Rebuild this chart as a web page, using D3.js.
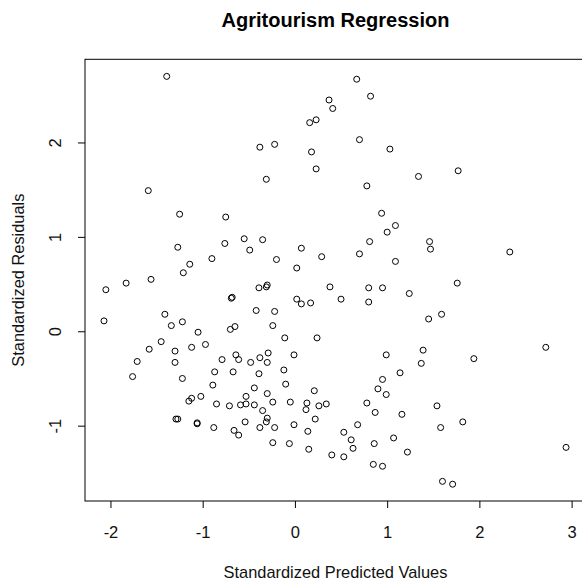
<!DOCTYPE html>
<html>
<head>
<meta charset="utf-8">
<script src="https://cdn.jsdelivr.net/npm/d3@7"></script>
<style>
  body { margin: 0; background: #fff; }
  svg { display: block; font-family: Arial, "Liberation Sans", sans-serif; }
</style>
</head>
<body>
<svg width="582" height="582"></svg>
<script>
// standardized predicted values (x) and standardized residuals (y)
const predicted = [
  -1.39, -1.59, 0.67, 0.82, 0.37, 0.41, 0.23, 0.16, -0.38, -0.22,
  0.70, 1.03, 0.18, 0.23, -0.31, 0.78, 1.34, 1.77,
  -1.25, -0.75, -0.55, -0.49, -1.27, -0.76, -0.90, -1.14, -1.21, -1.56,
  -1.83, -2.05, -0.68, -0.69, -2.07, -1.41, -1.34, -1.22, -1.05, -0.70,
  -0.65, -1.45, -1.58, -1.30, -1.12, -0.97, -1.71, -0.79, -0.64, -0.61,
  0.94, 1.09, 1.00, 0.81, -0.35, 0.07, -0.20, 0.29, 0.70, 1.09,
  0.02, 0.38, 0.80, 0.95, 1.24, -0.39, -0.31, -0.30, 0.02, 0.07,
  0.17, 0.50, 0.80, -0.42, -0.22, -0.24, -0.11, 0.24, -0.48, -0.38,
  -0.29, -0.01, 0.99,
  1.46, 1.47, 2.33, 1.76, 1.59, 1.45, 1.39, 2.72, 1.94,
  -1.30, -1.76, -1.22, -0.87, -0.67, -0.89, -0.53, -1.02, -1.12, -1.15,
  -0.85, -0.71, -0.59, -0.53, -0.54, -1.29, -1.27, -1.06, -1.06, -0.88,
  -0.66, -0.61,
  -0.30, -0.39, -0.12, -0.10, -0.44, -0.30, -0.44, -0.35, -0.24, -0.05,
  0.13, 0.12, 0.21, 0.26, 0.34, 0.22, -0.30, -0.31, -0.38, -0.22,
  -0.01, 0.14, -0.24, -0.06, 0.15, 0.40, 0.53, 0.53, 0.68, 0.61,
  0.63, 0.78, 0.87, 0.90, 0.95, 0.99, 1.14, 1.16, 1.07, 0.86,
  0.85, 0.95, 1.22,
  1.37, 1.54, 1.58, 1.82, 2.94, 1.60, 1.71
];
const residuals = [
  2.70, 1.49, 2.67, 2.49, 2.45, 2.36, 2.24, 2.21, 1.95, 1.98,
  2.03, 1.93, 1.90, 1.72, 1.61, 1.54, 1.64, 1.70,
  1.24, 1.21, 0.98, 0.86, 0.89, 0.93, 0.77, 0.71, 0.62, 0.55,
  0.51, 0.44, 0.36, 0.35, 0.11, 0.18, 0.06, 0.10, -0.01, 0.02,
  0.05, -0.11, -0.19, -0.21, -0.17, -0.14, -0.32, -0.30, -0.25, -0.30,
  1.25, 1.12, 1.05, 0.95, 0.97, 0.88, 0.76, 0.79, 0.82, 0.74,
  0.67, 0.47, 0.46, 0.46, 0.40, 0.46, 0.47, 0.49, 0.34, 0.29,
  0.30, 0.34, 0.31, 0.22, 0.21, 0.06, -0.07, -0.07, -0.33, -0.28,
  -0.23, -0.25, -0.25,
  0.95, 0.87, 0.84, 0.51, 0.18, 0.13, -0.20, -0.17, -0.29,
  -0.33, -0.48, -0.50, -0.43, -0.43, -0.57, -0.69, -0.69, -0.71, -0.74,
  -0.77, -0.79, -0.78, -0.77, -0.96, -0.93, -0.93, -0.97, -0.98, -1.02,
  -1.05, -1.10,
  -0.33, -0.45, -0.41, -0.56, -0.60, -0.66, -0.78, -0.84, -0.75, -0.75,
  -0.76, -0.83, -0.63, -0.79, -0.77, -0.93, -0.92, -0.96, -1.02, -1.02,
  -0.99, -1.06, -1.18, -1.19, -1.25, -1.31, -1.33, -1.07, -0.99, -1.15,
  -1.24, -0.76, -0.86, -0.61, -0.51, -0.67, -0.44, -0.88, -1.13, -1.19,
  -1.41, -1.43, -1.28,
  -0.34, -0.79, -1.02, -0.96, -1.23, -1.59, -1.62
];
const xTicks = [-2, -1, 0, 1, 2, 3];
const yTicks = [-1, 0, 1, 2];
const title = "Agritourism Regression";
const xTitle = "Standardized Predicted Values";
const yTitle = "Standardized Residuals";

const points = predicted.map((p, i) => ({x: p, y: residuals[i]}));

const box = {left: 85, right: 586, top: 59.3, bottom: 501};

const svg = d3.select("svg");

//--------------SCALES---------------------------------------
const xScale = d3.scaleLinear()
                 .domain([-2.276, 3.156])
                 .range([box.left, box.right]);

const yScale = d3.scaleLinear()
                 .domain([-1.798, 2.881])
                 .range([box.bottom, box.top]);

//--------------AXES----------------------------------------
// plain hyphen for negatives, like the original
const xx = d3.axisBottom(xScale)
             .tickValues(xTicks)
             .tickSizeInner(7)
             .tickSizeOuter(0)
             .tickFormat(d => String(d));

const yy = d3.axisLeft(yScale)
             .tickValues(yTicks)
             .tickSizeInner(7)
             .tickSizeOuter(0)
             .tickFormat(d => String(d));

const axisX = svg.append("g")
                 .attr("transform", "translate(0," + box.bottom + ")")
                 .call(xx);
axisX.select(".domain").remove();
axisX.selectAll("line").attr("stroke", "#000");
axisX.selectAll("text")
     .attr("y", 37)
     .attr("dy", null)
     .attr("fill", "#111")
     .style("font-size", "16.5px");

const axisY = svg.append("g")
                 .attr("transform", "translate(" + box.left + ",0)")
                 .call(yy);
axisY.select(".domain").remove();
axisY.selectAll("line").attr("stroke", "#000");
axisY.selectAll("text")
     .attr("transform", "rotate(-90)")
     .attr("x", 0)
     .attr("y", -24)
     .attr("dy", null)
     .attr("text-anchor", "middle")
     .attr("fill", "#111")
     .style("font-size", "16.5px");

// plot frame
svg.append("rect")
   .attr("x", box.left)
   .attr("y", box.top)
   .attr("width", box.right - box.left)
   .attr("height", box.bottom - box.top)
   .attr("fill", "none")
   .attr("stroke", "#000")
   .attr("stroke-width", 1);

//-------------POINTS----------------------------------------------
svg.append("g")
   .selectAll("circle")
   .data(points)
   .enter().append("circle")
   .attr("cx", d => xScale(d.x))
   .attr("cy", d => yScale(d.y))
   .attr("r", 3)
   .attr("fill", "none")
   .attr("stroke", "#000")
   .attr("stroke-width", 1);

//-------------TITLES----------------------------------------------
svg.append("text")
   .attr("x", (box.left + box.right) / 2)
   .attr("y", 27)
   .attr("text-anchor", "middle")
   .style("font-size", "20px")
   .style("font-weight", "bold")
   .text(title);

svg.append("text")
   .attr("x", (box.left + box.right) / 2)
   .attr("y", 578)
   .attr("text-anchor", "middle")
   .style("font-size", "16.4px")
   .attr("fill", "#111")
   .text(xTitle);

svg.append("text")
   .attr("transform", "translate(23.5," + ((box.top + box.bottom) / 2) + ") rotate(-90)")
   .attr("text-anchor", "middle")
   .style("font-size", "16.4px")
   .attr("fill", "#111")
   .text(yTitle);
</script>
</body>
</html>
